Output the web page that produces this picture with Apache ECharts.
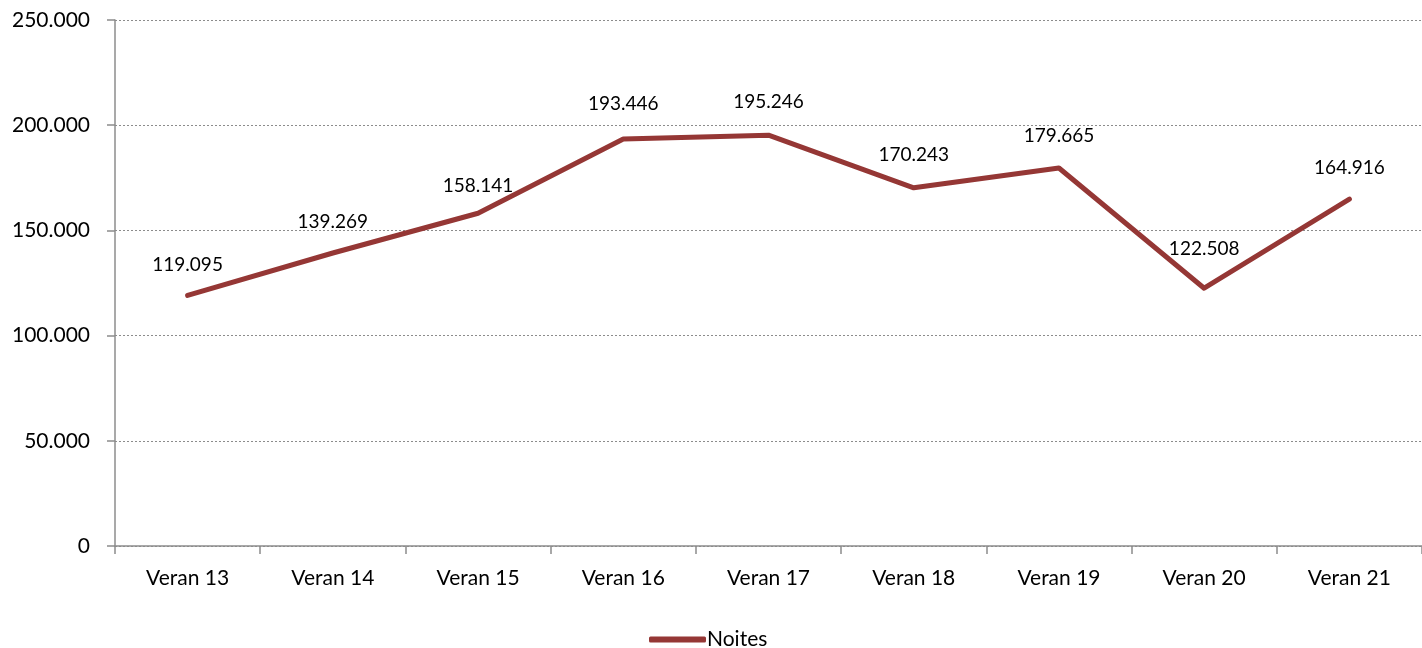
<!DOCTYPE html>
<html>
<head>
<meta charset="utf-8">
<script src="https://cdn.jsdelivr.net/npm/echarts@6/dist/echarts.min.js"></script>
<style>
html,body{margin:0;padding:0;background:#fff;}
#chart{width:1422px;height:648px;}
</style>
</head>
<body>
<div id="chart"></div>
<script>
const categories = ['Veran 13','Veran 14','Veran 15','Veran 16','Veran 17','Veran 18','Veran 19','Veran 20','Veran 21'];
const noites = [119095, 139269, 158141, 193446, 195246, 170243, 179665, 122508, 164916];
const yTicks = [0, 50000, 100000, 150000, 200000, 250000];
const seriesName = 'Noites';
// label distance above each point (layout only)
const labelLift = [21, 22, 18, 26, 24, 23, 23, 30, 22];

function fmt(v){
  return String(v).replace(/\B(?=(\d{3})+(?!\d))/g, '.');
}

const chart = echarts.init(document.getElementById('chart'));
chart.setOption({
  animation: false,
  backgroundColor: '#ffffff',
  textStyle: { fontFamily: 'Lato' },
  grid: { left: 115, right: 0, top: 20, bottom: 102, containLabel: false },
  legend: {
    data: [seriesName],
    left: 644, top: 624,
    icon: 'roundRect',
    itemWidth: 57, itemHeight: 6,
    textStyle: { fontFamily: 'Lato', fontSize: 21, color: '#000', padding: [0,0,0,-4] }
  },
  xAxis: {
    type: 'category',
    data: categories,
    boundaryGap: true,
    axisLine: { lineStyle: { color: '#8c8c8c', width: 1.5 } },
    axisTick: { show: true, length: 8, interval: 0, lineStyle: { color: '#8c8c8c', width: 1.5 } },
    axisLabel: { fontFamily: 'Lato', fontSize: 21, color: '#000', margin: 22, interval: 0 },
    splitLine: { show: false }
  },
  yAxis: {
    type: 'value',
    min: yTicks[0], max: yTicks[yTicks.length-1], interval: yTicks[1]-yTicks[0],
    axisLine: { show: true, lineStyle: { color: '#8c8c8c', width: 1.5 } },
    axisTick: { show: true, length: 8, lineStyle: { color: '#8c8c8c', width: 1.5 } },
    axisLabel: { fontFamily: 'Lato', fontSize: 21, color: '#000', margin: 25, formatter: fmt },
    splitLine: { show: true, lineStyle: { color: '#8c8c8c', type: [2, 2], width: 1 } }
  },
  series: [{
    name: seriesName,
    type: 'line',
    data: noites.map((v, i) => ({
      value: v,
      label: { distance: labelLift[i] }
    })),
    symbol: 'circle',
    symbolSize: 0,
    showSymbol: true,
    lineStyle: { color: '#953735', width: 5, cap: 'round', join: 'round' },
    itemStyle: { color: '#953735' },
    label: {
      show: true, position: 'top',
      fontFamily: 'Lato', fontSize: 19, color: '#000',
      formatter: p => fmt(p.value)
    }
  }]
});
</script>
</body>
</html>
